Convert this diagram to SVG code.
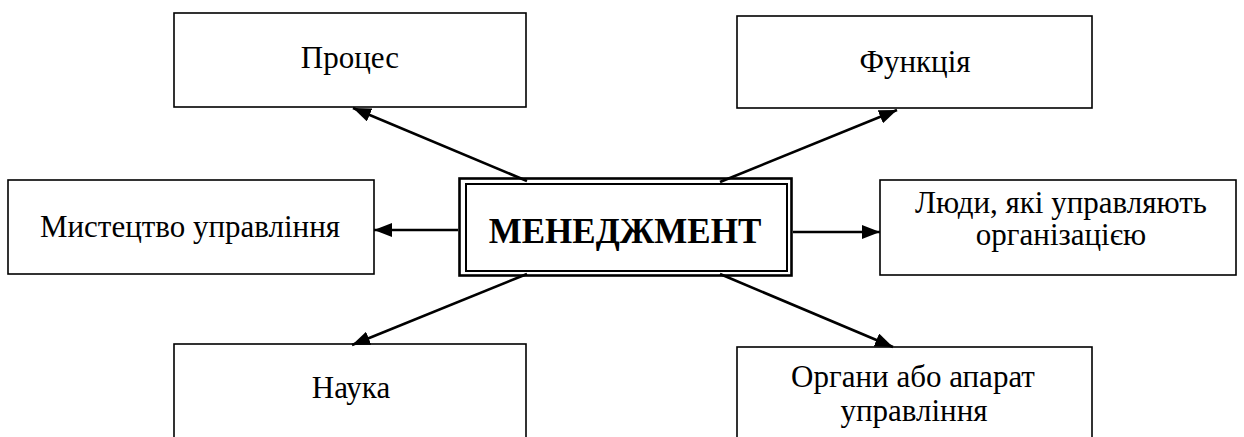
<svg xmlns="http://www.w3.org/2000/svg" width="1244" height="437" viewBox="0 0 1244 437">
<defs>
<marker id="ah" viewBox="0 0 18 14" refX="18" refY="7" markerWidth="18" markerHeight="14" markerUnits="userSpaceOnUse" orient="auto">
<path d="M0,0 L18,7 L0,14 Z" fill="#000"/>
</marker>
<style>
.box{fill:#fff;stroke:#000;stroke-width:1.6}
.t{font-family:'Liberation Serif','Times New Roman',serif;font-size:31px;fill:#000}
.c{text-anchor:middle}
.conn line{stroke:#000;stroke-width:2.6;marker-end:url(#ah)}
</style>
</defs>
<rect width="1244" height="437" fill="#fff"/>
<g font-family="Liberation Serif, Times New Roman, serif">
<g id="n-proces"><rect class="box" x="174" y="13" width="352" height="94"/><text class="t c" x="350" y="68">Процес</text></g>
<g id="n-funktsiia"><rect class="box" x="737" y="16" width="355" height="92"/><text class="t c" x="915" y="72">Функція</text></g>
<g id="n-mystetstvo"><rect class="box" x="8" y="180" width="366" height="94"/><text class="t c" x="190" y="237">Мистецтво управління</text></g>
<g id="n-liudy"><rect class="box" x="880" y="180" width="356" height="95"/><text class="t c" x="1061" y="213">Люди, які управляють</text><text class="t c" x="1061" y="245">організацією</text></g>
<g id="n-nauka"><rect class="box" x="174" y="344" width="352" height="100"/><text class="t c" x="351" y="398">Наука</text></g>
<g id="n-orhany"><rect class="box" x="737" y="347" width="355" height="100"/><text class="t c" x="913" y="387">Органи або апарат</text><text class="t c" x="914" y="421">управління</text></g>
<g id="n-menedzhment">
<rect x="459.5" y="178.5" width="332" height="97" fill="#fff" stroke="#000" stroke-width="2.6"/>
<rect x="466" y="184" width="321" height="87" fill="none" stroke="#000" stroke-width="2"/>
<text x="625" y="243" text-anchor="middle" font-family="Liberation Serif, Times New Roman, serif" font-size="35" font-weight="bold">МЕНЕДЖМЕНТ</text>
</g>
</g>
<g id="connectors" class="conn">
<line x1="527" y1="181" x2="353" y2="108"/>
<line x1="720" y1="182" x2="897" y2="110"/>
<line x1="458" y1="230" x2="374" y2="230"/>
<line x1="793" y1="232" x2="880" y2="232"/>
<line x1="527" y1="274" x2="352" y2="345"/>
<line x1="720" y1="274" x2="893" y2="347"/>
</g>
</svg>
